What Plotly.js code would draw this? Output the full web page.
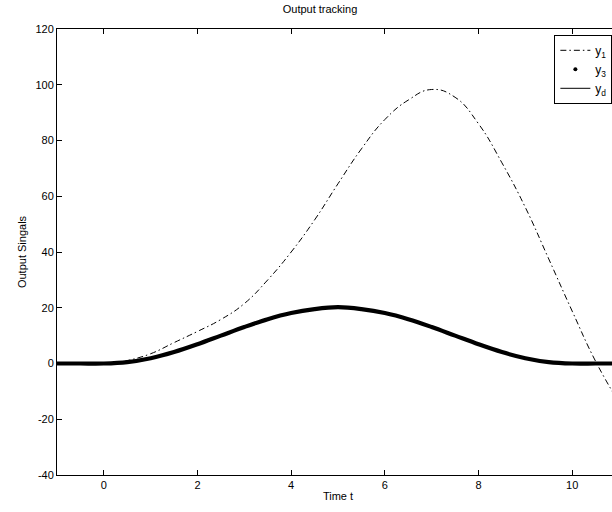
<!DOCTYPE html>
<html>
<head>
<meta charset="utf-8">
<script src="https://cdn.plot.ly/plotly-3.0.1.min.js"></script>
<style>
html,body{margin:0;padding:0;overflow:hidden;background:#fff;}
#chart{width:640px;height:512px;}
</style>
</head>
<body>
<div id="chart"></div>
<script>
// time samples
const tD = [-1,-0.5,0,0.5,1,1.5,2,2.5,3,3.5,4,4.5,5,5.5,6,6.5,7,7.5,8,8.5,9,9.5,10,10.5,11];
// desired output y_d (also tracked by y_3)
const yD = [0,0,0,0.5,1.9,4.1,6.9,10,13.1,15.9,18.1,19.5,20.2,19.5,18.1,15.9,13.1,10,6.9,4.1,1.9,0.5,0,0,0];
const y3 = [0,0,0,0.5,1.9,4.1,6.9,10,13.1,15.9,18.1,19.5,20.2,19.5,18.1,15.9,13.1,10,6.9,4.1,1.9,0.5,0,0,0];
// output y_1
const t1 = [-1,-0.5,0,0.3,0.5,1,1.5,2,2.5,3,3.5,4,4.5,5,5.5,6,6.5,7,7.5,8,8.5,9,9.5,10,10.5,11];
const y1 = [0,0,0,0.2,1,3.5,7.5,11.5,15.8,21.5,30,40,51.5,64.5,77,87.5,94.5,98.3,95.5,86,72,56,37.5,18.8,0.8,-14];

const xTicks = [0,2,4,6,8,10];
const yTicks = [-40,-20,0,20,40,60,80,100,120];

const font = {family: 'Liberation Sans, Arial, sans-serif', size: 11, color: '#000'};

const traces = [
  {x: t1, y: y1, name: 'y<sub>1</sub>', mode: 'lines', line: {color: '#000', width: 1, dash: '6px,3px,1.5px,3px', shape: 'spline', smoothing: 1.3}},
  {x: tD, y: y3, name: 'y<sub>3</sub>', mode: 'lines', line: {color: '#000', width: 4.2, shape: 'spline'}, showlegend: false},
  {x: [null], y: [null], name: 'y<sub>3</sub>', mode: 'markers', marker: {color: '#000', size: 4}},
  {x: tD, y: yD, name: 'y<sub>d</sub>', mode: 'lines', line: {color: '#000', width: 1, shape: 'spline'}}
];

const axisCommon = {
  showgrid: false, zeroline: false, showline: true, mirror: 'ticks',
  linecolor: '#000', linewidth: 1, ticks: 'inside', ticklen: 5, tickcolor: '#000',
  tickfont: font
};

const layout = {
  width: 640, height: 512,
  margin: {l: 57, r: 21, t: 29, b: 37, autoexpand: false},
  paper_bgcolor: '#fff', plot_bgcolor: '#fff',
  font: font,
  title: {text: 'Output tracking', font: font, x: 0.5, xanchor: 'center', y: 0.99, yanchor: 'top'},
  xaxis: Object.assign({}, axisCommon, {
    range: [-1, 11], tickvals: xTicks, ticktext: xTicks.map(String),
    title: {text: 'Time t', font: font, standoff: 2}
  }),
  yaxis: Object.assign({}, axisCommon, {
    range: [-40, 120], tickvals: yTicks, ticktext: yTicks.map(v => v < 0 ? '-' + Math.abs(v) : String(v)),
    title: {text: 'Output Singals', font: font, standoff: 6}
  }),
  legend: {
    x: 0.885, y: 0.987, xanchor: 'left', yanchor: 'top',
    bgcolor: '#fff', bordercolor: '#000', borderwidth: 1,
    font: {family: 'Liberation Sans, Arial, sans-serif', size: 12, color: '#000'},
    itemwidth: 30, tracegroupgap: 0
  },
  showlegend: true
};

Plotly.newPlot('chart', traces, layout, {staticPlot: true, displayModeBar: false});
</script>
</body>
</html>
